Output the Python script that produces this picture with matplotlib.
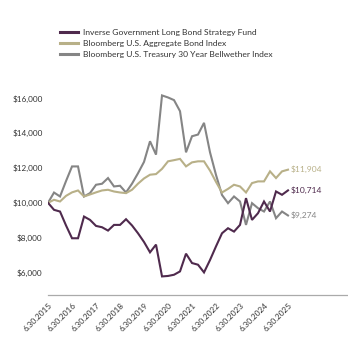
import matplotlib.pyplot as plt

plt.rcParams['font.family'] = ['Lato', 'DejaVu Sans']

# quarterly growth of $10,000, 6/30/2015 - 6/30/2025
fund = [10000, 9597, 9500, 8700, 7965, 7965, 9212, 9020, 8674, 8598,
        8406, 8732, 8732, 9059, 8700, 8250, 7750, 7157, 7600, 5774,
        5800, 5870, 6062, 7080, 6542, 6446, 6004, 6715, 7500, 8252,
        8541, 8348, 8732, 10269, 9020, 9404, 10077, 9500, 10653, 10461,
        10714]
agg = [10000, 10173, 10077, 10400, 10600, 10710, 10365, 10480, 10600, 10710,
       10749, 10650, 10594, 10557, 10750, 11100, 11400, 11614, 11650, 11950,
       12383, 12450, 12524, 12092, 12323, 12383, 12383, 11850, 11200, 10594,
       10800, 11037, 10940, 10594, 11134, 11230, 11230, 11806, 11422, 11806,
       11904]
treas = [10000, 10590, 10365, 11250, 12090, 12090, 10365, 10557, 11037, 11095,
         11422, 10940, 10980, 10594, 11100, 11700, 12350, 13535, 12767, 16167,
         16050, 15898, 15262, 12900, 13823, 13920, 14592, 12900, 11600, 10450,
         9980, 10365, 10077, 8732, 9980, 9693, 9500, 10077, 9117, 9500,
         9274]

names = ['Inverse Government Long Bond Strategy Fund',
         'Bloomberg U.S. Aggregate Bond Index',
         'Bloomberg U.S. Treasury 30 Year Bellwether Index']
colors = ['#4f2a4d', '#b8b088', '#858585']
year_labels = ['6.30.%d' % y for y in range(2015, 2026)]
yticks = [6000, 8000, 10000, 12000, 14000, 16000]

fig = plt.figure(figsize=(3.48, 3.40), dpi=100)
ax = fig.add_axes([0.138, 0.132, 0.862, 0.63])

x = list(range(len(fund)))
series = [fund, agg, treas]
# draw treasury first so the fund line sits on top
for s, c, n in zip(series[::-1], colors[::-1], names[::-1]):
    ax.plot(x, s, color=c, lw=1.5, label=n, solid_joinstyle='miter')

for s, c in zip(series, colors):
    ax.text(x[-1] + 0.4, s[-1], '${:,}'.format(s[-1]), color=c,
            fontsize=6.1, va='center', ha='left')

ax.set_xlim(0, 50)
ax.set_ylim(4700, 17000)
ax.set_xticks(range(0, 41, 4))
ax.set_xticklabels(year_labels, rotation=45, ha='right',
                   rotation_mode='anchor', fontsize=5.9, color='#333333')
ax.set_yticks(yticks)
ax.set_yticklabels(['${:,}'.format(v) for v in yticks], fontsize=5.9,
                   color='#333333')
ax.tick_params(length=0, pad=4)
ax.tick_params(axis='x', pad=5)
for side in ['top', 'right', 'left']:
    ax.spines[side].set_visible(False)
ax.spines['bottom'].set_color('#aaaaaa')
ax.spines['bottom'].set_linewidth(0.9)

# legend in the upper left
handles = [plt.Line2D([], [], color=c, lw=2.2) for c in colors]
fig.legend(handles, names, loc='upper left', bbox_to_anchor=(0.163, 0.925),
           frameon=False, fontsize=6.1, handlelength=2.1, handletextpad=0.6,
           labelspacing=0.45, labelcolor='#333333', borderaxespad=0)

fig.savefig('out.png', dpi=100)
